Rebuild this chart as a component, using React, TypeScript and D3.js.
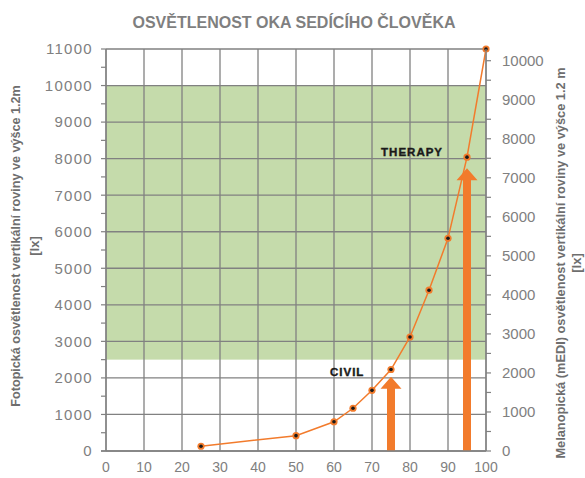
import React from 'react';
import * as d3 from 'd3';

// data
const xValues = [25, 50, 60, 65, 70, 75, 80, 85, 90, 95, 100];
const luxValues = [130, 420, 800, 1170, 1660, 2230, 3120, 4400, 5820, 8040, 11000];
const xTicks = [0, 10, 20, 30, 40, 50, 60, 70, 80, 90, 100];
const leftTicks = [0, 1000, 2000, 3000, 4000, 5000, 6000, 7000, 8000, 9000, 10000, 11000];
const rightTicks = [0, 1000, 2000, 3000, 4000, 5000, 6000, 7000, 8000, 9000, 10000];
const greenBand = [2500, 10000];
const arrowNames = ['CIVIL', 'THERAPY'];
const arrowX = [75, 95];
const arrowTop = [2030, 7740];
const labelX = [68, 88.7];
const labelY = [2170, 8190];

const W = 585;
const H = 478;
const margin = { top: 49, right: 99, bottom: 27, left: 106 };

const ORANGE = '#f27b2c';
const GRID = '#818181';
const TICK_TXT = '#808080';
const AXIS_TXT = '#6e6e6e';

export default function App() {
  const x = d3.scaleLinear().domain([0, 100]).range([margin.left, W - margin.right]);
  const y = d3.scaleLinear().domain([0, 11000]).range([H - margin.bottom, margin.top]);
  const yR = d3.scaleLinear().domain([0, 10300]).range([H - margin.bottom, margin.top]);

  const pts = xValues.map((v, i) => ({ x: v, y: luxValues[i] }));
  const line = d3
    .line<{ x: number; y: number }>()
    .x((d) => x(d.x))
    .y((d) => y(d.y));

  const minorLeft = d3.range(0, 11001, 500);
  const minorRight = d3.range(0, 10301, 500);

  const x0 = x(0);
  const x1 = x(100);
  const yb = y(0);
  const yt = y(11000);

  const arrowPath = (ax: number, top: number) => {
    const cx = x(ax);
    const ty = y(top);
    const sw = 4; // half shaft
    const hw = 10.5; // half head
    const hh = 12;
    return `M${cx - sw},${yb} L${cx - sw},${ty + hh} L${cx - hw},${ty + hh} L${cx},${ty} L${cx + hw},${ty + hh} L${cx + sw},${ty + hh} L${cx + sw},${yb} Z`;
  };

  return (
    <svg width={W} height={H} style={{ display: 'block', fontFamily: '"Liberation Sans", Arial, sans-serif' }}>
      <style>{'body{margin:0}'}</style>
      <rect width={W} height={H} fill="#fff" />

      {/* title */}
      <text x={294} y={28} textAnchor="middle" fontSize={16} fontWeight="bold" fill="#7f7f7f">
        OSVĚTLENOST OKA SEDÍCÍHO ČLOVĚKA
      </text>

      {/* green band */}
      <rect
        x={x0}
        y={y(greenBand[1])}
        width={x1 - x0}
        height={y(greenBand[0]) - y(greenBand[1])}
        fill="#c5dbab"
      />

      {/* grid */}
      {xTicks.map((t) => (
        <line key={'vx' + t} x1={x(t)} x2={x(t)} y1={yt} y2={yb} stroke={GRID} strokeWidth={1.3} />
      ))}
      {leftTicks.map((t) => (
        <line key={'hy' + t} x1={x0} x2={x1} y1={y(t)} y2={y(t)} stroke={GRID} strokeWidth={1.3} />
      ))}

      {/* left ticks */}
      {minorLeft.map((t) => (
        <line key={'lt' + t} x1={x0 - 5} x2={x0} y1={y(t)} y2={y(t)} stroke={GRID} strokeWidth={1.2} />
      ))}
      {leftTicks.map((t) => (
        <text key={'ll' + t} x={93} y={y(t)} dy="0.36em" textAnchor="end" fontSize={15} letterSpacing={1.3} fill={TICK_TXT}>
          {t}
        </text>
      ))}

      {/* right ticks */}
      {minorRight.map((t) => (
        <line key={'rt' + t} x1={x1} x2={x1 + 5} y1={yR(t)} y2={yR(t)} stroke={GRID} strokeWidth={1.2} />
      ))}
      {rightTicks.map((t) => (
        <text key={'rl' + t} x={502} y={yR(t)} dy="0.36em" textAnchor="start" fontSize={15} fill={TICK_TXT}>
          {t}
        </text>
      ))}

      {/* x tick labels */}
      {xTicks.map((t) => (
        <text key={'xl' + t} x={x(t)} y={472} textAnchor="middle" fontSize={14} fill={TICK_TXT}>
          {t}
        </text>
      ))}

      {/* axis titles */}
      <g transform="translate(20,246) rotate(-90)">
        <text textAnchor="middle" fontSize={12.6} fontWeight="bold" fill={AXIS_TXT}>
          Fotopická osvětlenost vertikální roviny ve výšce 1.2m
        </text>
        <text y={19} textAnchor="middle" fontSize={13} fontWeight="bold" fill={AXIS_TXT}>
          [lx]
        </text>
      </g>
      <g transform="translate(565,263) rotate(-90)">
        <text textAnchor="middle" fontSize={12.8} fontWeight="bold" fill={AXIS_TXT}>
          Melanopická (mEDI) osvětlenost vertikální roviny ve výšce 1.2 m
        </text>
        <text y={16} textAnchor="middle" fontSize={13} fontWeight="bold" fill={AXIS_TXT}>
          [lx]
        </text>
      </g>

      {/* arrows */}
      {arrowX.map((a, i) => (
        <path key={'ar' + i} d={arrowPath(a, arrowTop[i])} fill={ORANGE} />
      ))}

      {/* arrow labels */}
      {arrowNames.map((n, i) => (
        <text
          key={'an' + n}
          x={x(labelX[i])}
          y={y(labelY[i])}
          dy="0.36em"
          textAnchor="end"
          fontSize={11.5}
          fontWeight="900"
          letterSpacing={1}
          stroke="#1a1a1a"
          strokeWidth={0.4}
          fill="#1a1a1a"
        >
          {n}
        </text>
      ))}

      {/* series */}
      <path d={line(pts) || ''} fill="none" stroke={ORANGE} strokeWidth={1.5} />
      {pts.map((p, i) => (
        <g key={'pt' + i}>
          <circle cx={x(p.x)} cy={y(p.y)} r={3.6} fill={ORANGE} />
          <circle cx={x(p.x)} cy={y(p.y)} r={1.8} fill="#1a1a1a" />
        </g>
      ))}

      {/* axis lines */}
      <line x1={x0} x2={x0} y1={yt} y2={yb} stroke={GRID} strokeWidth={1.3} />
      <line x1={x0 - 5} x2={x1} y1={yb} y2={yb} stroke={GRID} strokeWidth={1.3} />
      <line x1={x1} x2={x1} y1={yt} y2={yb} stroke={GRID} strokeWidth={1.3} />
    </svg>
  );
}
